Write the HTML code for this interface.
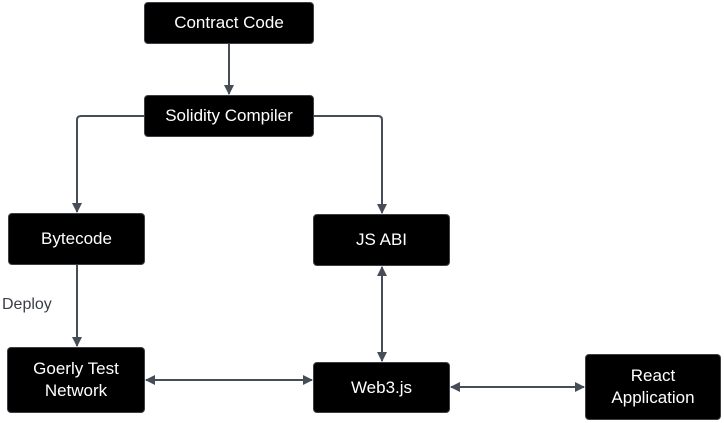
<!DOCTYPE html>
<html><head><style>
body{margin:0;width:724px;height:423px;background:#fff;position:relative;overflow:hidden;font-family:"Liberation Sans",sans-serif}
.n{position:absolute;background:#000;border:1.5px solid #3a3f47;border-radius:4px;color:#fff;font-size:17px;display:flex;align-items:center;justify-content:center;text-align:center;line-height:22px;box-sizing:border-box}
svg{position:absolute;left:0;top:0}
</style></head><body>
<svg width="724" height="423">
<defs><marker id="a" markerWidth="10" markerHeight="10" refX="9" refY="5" orient="auto-start-reverse" markerUnits="userSpaceOnUse"><path d="M0,0 L10,5 L0,10 z" fill="#474d57"/></marker></defs>
<g stroke="#474d57" stroke-width="2" fill="none">
<path d="M229,44 V94" marker-end="url(#a)"/>
<path d="M144,116 H81 Q77,116 77,120 V212" marker-end="url(#a)"/>
<path d="M314,116 H378 Q382,116 382,120 V213" marker-end="url(#a)"/>
<path d="M77,265 V346" marker-end="url(#a)"/>
<path d="M382,267 V361" marker-start="url(#a)" marker-end="url(#a)"/>
<path d="M146,380 H312" marker-start="url(#a)" marker-end="url(#a)"/>
<path d="M451,387 H584" marker-start="url(#a)" marker-end="url(#a)"/>
</g>
<text x="2" y="309" font-family="Liberation Sans" font-size="16" fill="#3a3f47">Deploy</text>
</svg>
<div class="n" style="left:144px;top:2px;width:170px;height:42px">Contract Code</div>
<div class="n" style="left:144px;top:95px;width:170px;height:42px">Solidity Compiler</div>
<div class="n" style="left:8px;top:213px;width:137px;height:52px">Bytecode</div>
<div class="n" style="left:313px;top:214px;width:137px;height:52px">JS ABI</div>
<div class="n" style="left:7px;top:347px;width:138px;height:66px">Goerly Test<br>Network</div>
<div class="n" style="left:313px;top:362px;width:137px;height:51px">Web3.js</div>
<div class="n" style="left:585px;top:354px;width:136px;height:66px">React<br>Application</div>
</body></html>
